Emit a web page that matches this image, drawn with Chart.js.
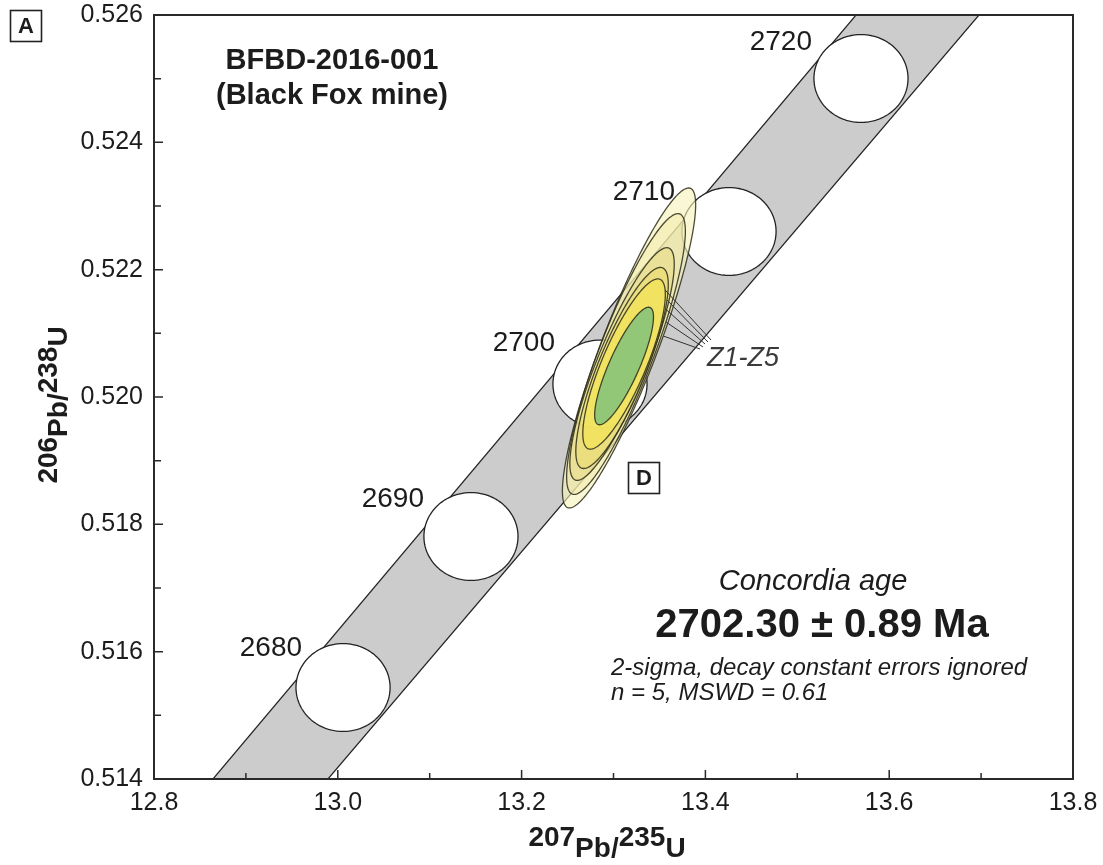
<!DOCTYPE html>
<html>
<head>
<meta charset="utf-8">
<script src="https://cdn.jsdelivr.net/npm/chart.js@4.4.1/dist/chart.umd.min.js"></script>
<style>
  html, body { margin: 0; padding: 0; background: #ffffff; }
  canvas { display: block; }
</style>
</head>
<body>
<canvas id="concordia" width="1103" height="865"></canvas>
<script>
// ---- Concordia age markers (Ma) with decay-constant uncertainty ----
const markerAges = [2680, 2690, 2700, 2710, 2720];
const markerPb207U235 = [13.0057, 13.1449, 13.2853, 13.4257, 13.5693];
const markerPb206U238 = [0.515437, 0.517809, 0.520204, 0.522600, 0.525003];
const markerErr207 = [0.0512, 0.0512, 0.0512, 0.0512, 0.0512];
const markerErr206 = [0.00069, 0.00069, 0.00069, 0.00069, 0.00069];

// ---- Concordia band envelope ----
const bandPb206U238 = [0.514, 0.526];
const bandUpperEdge207 = [12.8642, 13.5639];
const bandLowerEdge207 = [12.9893, 13.6977];

// ---- Zircon analyses Z1-Z5 (2-sigma error ellipses) ----
const grainNames = ['Z1', 'Z2', 'Z3', 'Z4', 'Z5'];
const grainPb207U235 = [13.3169, 13.3136, 13.3093, 13.3093, 13.3115];
const grainPb206U238 = [0.520770, 0.520675, 0.520518, 0.520456, 0.520518];
const grainErr207 = [0.0725, 0.0646, 0.0568, 0.0503, 0.0449];
const grainErr206 = [0.002513, 0.002205, 0.001827, 0.001579, 0.001337];
const grainRho = [0.894, 0.874, 0.858, 0.829, 0.817];

// ---- Concordia age ellipse ----
const concordiaPb207U235 = [13.3115];
const concordiaPb206U238 = [0.520487];
const concordiaErr207 = [0.0320];
const concordiaErr206 = [0.000923];
const concordiaRho = [0.832];

// ---- Axis ticks ----
const xMajorTicks = [12.8, 13.0, 13.2, 13.4, 13.6, 13.8];
const xMinorTicks = [12.9, 13.1, 13.3, 13.5, 13.7];
const yMajorTicks = [0.514, 0.516, 0.518, 0.520, 0.522, 0.524, 0.526];
const yMinorTicks = [0.515, 0.517, 0.519, 0.521, 0.523, 0.525];

// ---- Styling / layout ----
const FONT = '"Liberation Sans", Arial, Helvetica, sans-serif';
const INK = '#1c1c1c';
const grainFills = [
  'rgba(247,242,188,0.62)',
  'rgba(240,232,160,0.45)',
  'rgba(232,218,118,0.45)',
  'rgba(236,220,98,0.45)',
  'rgba(246,229,80,0.62)'
];
const concordiaFill = 'rgba(124,193,124,0.82)';
const ageLabelOffset = [[-41, -39], [-47, -37], [-45, -41], [-54, -39], [-49, -36]]; // px from marker centre
const leaderStartPx = [336, 322, 310, 300, 290];       // screen y where each leader meets its ellipse
const leaderEndOffset = [[-7, -9], [-4, -11], [-2, -14], [1, -16], [4, -18]];

function ellipsePoints(xs, ys, cx, cy, ex, ey, rho) {
  const pts = [];
  const k = Math.sqrt(Math.max(0, 1 - rho * rho));
  const n = 240;
  for (let i = 0; i < n; i++) {
    const t = (i / n) * Math.PI * 2;
    const vx = cx + ex * Math.cos(t);
    const vy = cy + ey * (rho * Math.cos(t) + k * Math.sin(t));
    pts.push([xs.getPixelForValue(vx), ys.getPixelForValue(vy)]);
  }
  return pts;
}

function tracePath(ctx, pts) {
  ctx.beginPath();
  pts.forEach((p, i) => (i ? ctx.lineTo(p[0], p[1]) : ctx.moveTo(p[0], p[1])));
  ctx.closePath();
}

function rightmostAt(pts, py) {
  let best = -Infinity;
  for (let i = 0; i < pts.length; i++) {
    const a = pts[i], b = pts[(i + 1) % pts.length];
    if ((a[1] - py) * (b[1] - py) <= 0 && a[1] !== b[1]) {
      const xx = a[0] + (py - a[1]) / (b[1] - a[1]) * (b[0] - a[0]);
      if (xx > best) best = xx;
    }
  }
  return best;
}

function drawMixedLabel(ctx, parts, x0, numBase, letBase) {
  let x = x0;
  parts.forEach(p => {
    ctx.fillText(p.t, x, p.num ? numBase : letBase);
    x += ctx.measureText(p.t).width;
  });
}

function mixedWidth(ctx, parts) {
  return parts.reduce((s, p) => s + ctx.measureText(p.t).width, 0);
}

const bandPlugin = {
  id: 'concordiaBand',
  beforeDatasetsDraw(chart) {
    const { ctx, chartArea: a, scales: { x, y } } = chart;
    ctx.save();
    ctx.beginPath();
    ctx.rect(a.left, a.top, a.right - a.left, a.bottom - a.top);
    ctx.clip();
    ctx.beginPath();
    bandPb206U238.forEach((v, i) => {
      const px = x.getPixelForValue(bandUpperEdge207[i]);
      const py = y.getPixelForValue(v);
      i ? ctx.lineTo(px, py) : ctx.moveTo(px, py);
    });
    for (let i = bandPb206U238.length - 1; i >= 0; i--) {
      ctx.lineTo(x.getPixelForValue(bandLowerEdge207[i]), y.getPixelForValue(bandPb206U238[i]));
    }
    ctx.closePath();
    ctx.fillStyle = '#cccccc';
    ctx.fill();
    ctx.restore();
  }
};

const ellipsePlugin = {
  id: 'ellipses',
  afterDatasetsDraw(chart) {
    const { ctx, chartArea: a, scales: { x, y } } = chart;
    ctx.save();
    ctx.beginPath();
    ctx.rect(a.left, a.top, a.right - a.left, a.bottom - a.top);
    ctx.clip();

    // age markers on concordia
    markerAges.forEach((age, i) => {
      const pts = ellipsePoints(x, y, markerPb207U235[i], markerPb206U238[i], markerErr207[i], markerErr206[i], 0);
      tracePath(ctx, pts);
      ctx.fillStyle = '#ffffff';
      ctx.fill();
      ctx.lineWidth = 1.3;
      ctx.strokeStyle = '#222222';
      ctx.stroke();
    });

    // zircon analyses
    const grainPts = [];
    grainNames.forEach((name, i) => {
      const pts = ellipsePoints(x, y, grainPb207U235[i], grainPb206U238[i], grainErr207[i], grainErr206[i], grainRho[i]);
      grainPts.push(pts);
      tracePath(ctx, pts);
      ctx.fillStyle = grainFills[i];
      ctx.fill();
      ctx.lineWidth = 1.3;
      ctx.strokeStyle = 'rgba(45,45,25,0.85)';
      ctx.stroke();
    });

    // concordia age ellipse
    concordiaPb207U235.forEach((cx, i) => {
      const pts = ellipsePoints(x, y, cx, concordiaPb206U238[i], concordiaErr207[i], concordiaErr206[i], concordiaRho[i]);
      tracePath(ctx, pts);
      ctx.fillStyle = concordiaFill;
      ctx.fill();
      ctx.lineWidth = 1.3;
      ctx.strokeStyle = 'rgba(45,45,25,0.85)';
      ctx.stroke();
    });

    // leader lines to the Z1-Z5 label
    const lab = chart.options.plugins.ellipses.zLabel;
    ctx.strokeStyle = '#333333';
    ctx.lineWidth = 1;
    grainPts.forEach((pts, i) => {
      const sy = leaderStartPx[i];
      const sx = rightmostAt(pts, sy);
      ctx.beginPath();
      ctx.moveTo(sx, sy);
      ctx.lineTo(lab.x + leaderEndOffset[i][0], lab.y + leaderEndOffset[i][1]);
      ctx.stroke();
    });
    ctx.restore();

    // age labels
    ctx.save();
    ctx.font = '28px ' + FONT;
    ctx.fillStyle = INK;
    ctx.textAlign = 'right';
    ctx.textBaseline = 'middle';
    markerAges.forEach((age, i) => {
      const px = x.getPixelForValue(markerPb207U235[i]);
      const py = y.getPixelForValue(markerPb206U238[i]);
      ctx.fillText(String(age), px + ageLabelOffset[i][0], py + ageLabelOffset[i][1]);
    });

    // Z1-Z5 label
    ctx.textAlign = 'left';
    ctx.font = 'italic 27px ' + FONT;
    ctx.fillStyle = '#3a3a3a';
    ctx.fillText(grainNames[0] + '-' + grainNames[grainNames.length - 1], lab.x, lab.y);
    ctx.restore();
  },
  afterDraw(chart) {
    const { ctx, chartArea: a, scales: { x, y } } = chart;
    ctx.save();
    // frame
    ctx.strokeStyle = '#2a2a2a';
    ctx.lineWidth = 2;
    ctx.strokeRect(a.left, a.top, a.right - a.left, a.bottom - a.top);

    // inward ticks
    ctx.lineWidth = 1.5;
    ctx.beginPath();
    xMajorTicks.forEach(v => { const p = x.getPixelForValue(v); ctx.moveTo(p, a.bottom); ctx.lineTo(p, a.bottom - 9); });
    xMinorTicks.forEach(v => { const p = x.getPixelForValue(v); ctx.moveTo(p, a.bottom); ctx.lineTo(p, a.bottom - 6); });
    yMajorTicks.forEach(v => { const p = y.getPixelForValue(v); ctx.moveTo(a.left, p); ctx.lineTo(a.left + 9, p); });
    yMinorTicks.forEach(v => { const p = y.getPixelForValue(v); ctx.moveTo(a.left, p); ctx.lineTo(a.left + 7, p); });
    ctx.stroke();

    ctx.fillStyle = INK;
    // axis titles with raised mass numbers
    ctx.font = 'bold 28px ' + FONT;
    ctx.textAlign = 'left';
    ctx.textBaseline = 'alphabetic';
    const xParts = [{ t: '207', num: true }, { t: 'Pb/', num: false }, { t: '235', num: true }, { t: 'U', num: false }];
    const xw = mixedWidth(ctx, xParts);
    drawMixedLabel(ctx, xParts, 607 - xw / 2, 846, 857);

    const yParts = [{ t: '206', num: true }, { t: 'Pb/', num: false }, { t: '238', num: true }, { t: 'U', num: false }];
    const yw = mixedWidth(ctx, yParts);
    ctx.save();
    ctx.translate(0, 405);
    ctx.rotate(-Math.PI / 2);
    drawMixedLabel(ctx, yParts, -yw / 2, 57, 67);
    ctx.restore();

    // panel letter
    ctx.lineWidth = 1.6;
    ctx.strokeStyle = '#222';
    ctx.strokeRect(10.5, 10.5, 31, 31);
    ctx.font = 'bold 22px ' + FONT;
    ctx.textAlign = 'center';
    ctx.textBaseline = 'middle';
    ctx.fillText('A', 26, 27);

    // D tag
    ctx.strokeRect(628.5, 462.5, 31, 31);
    ctx.fillText('D', 644, 479);

    // sample title
    ctx.font = 'bold 29px ' + FONT;
    ctx.fillText('BFBD-2016-001', 332, 61);
    ctx.fillText('(Black Fox mine)', 332, 96);

    // concordia age statement
    ctx.font = 'italic 29px ' + FONT;
    ctx.fillText('Concordia age', 813, 582);
    ctx.font = 'bold 40px ' + FONT;
    ctx.fillText('2702.30 \u00B1 0.89 Ma', 822, 626);
    ctx.font = 'italic 24px ' + FONT;
    ctx.textAlign = 'left';
    ctx.fillText('2-sigma, decay constant errors ignored', 611, 668);
    ctx.fillText('n = 5, MSWD = 0.61', 611, 693);
    ctx.restore();
  }
};

new Chart(document.getElementById('concordia'), {
  type: 'scatter',
  data: {
    datasets: [
      {
        label: 'Concordia band (upper edge)',
        data: bandPb206U238.map((v, i) => ({ x: bandUpperEdge207[i], y: v })),
        showLine: true, borderColor: '#222222', borderWidth: 1.2, pointRadius: 0, fill: false
      },
      {
        label: 'Concordia band (lower edge)',
        data: bandPb206U238.map((v, i) => ({ x: bandLowerEdge207[i], y: v })),
        showLine: true, borderColor: '#222222', borderWidth: 1.2, pointRadius: 0, fill: false
      }
    ]
  },
  options: {
    responsive: false,
    animation: false,
    devicePixelRatio: 1,
    layout: { padding: { top: 15, right: 30, left: 0, bottom: 0 } },
    plugins: {
      legend: { display: false },
      tooltip: { enabled: false },
      ellipses: { zLabel: { x: 707, y: 358 } }
    },
    scales: {
      x: {
        type: 'linear', min: 12.8, max: 13.8,
        grid: { display: false, drawTicks: false },
        border: { display: false },
        afterBuildTicks: s => { s.ticks = xMajorTicks.map(v => ({ value: v })); },
        afterFit: s => { s.height = 86; s.paddingLeft = 0; s.paddingRight = 0; },
        ticks: {
          padding: 9, color: INK, maxRotation: 0, autoSkip: false,
          font: { family: FONT, size: 25 },
          callback: v => Number(v).toFixed(1)
        }
      },
      y: {
        type: 'linear', min: 0.514, max: 0.526,
        grid: { display: false, drawTicks: false },
        border: { display: false },
        afterBuildTicks: s => { s.ticks = yMajorTicks.map(v => ({ value: v })); },
        afterFit: s => { s.width = 154; s.paddingTop = 0; s.paddingBottom = 0; },
        ticks: {
          padding: 11, color: INK, autoSkip: false,
          font: { family: FONT, size: 25 },
          callback: v => Number(v).toFixed(3)
        }
      }
    }
  },
  plugins: [bandPlugin, ellipsePlugin]
});
</script>
</body>
</html>
